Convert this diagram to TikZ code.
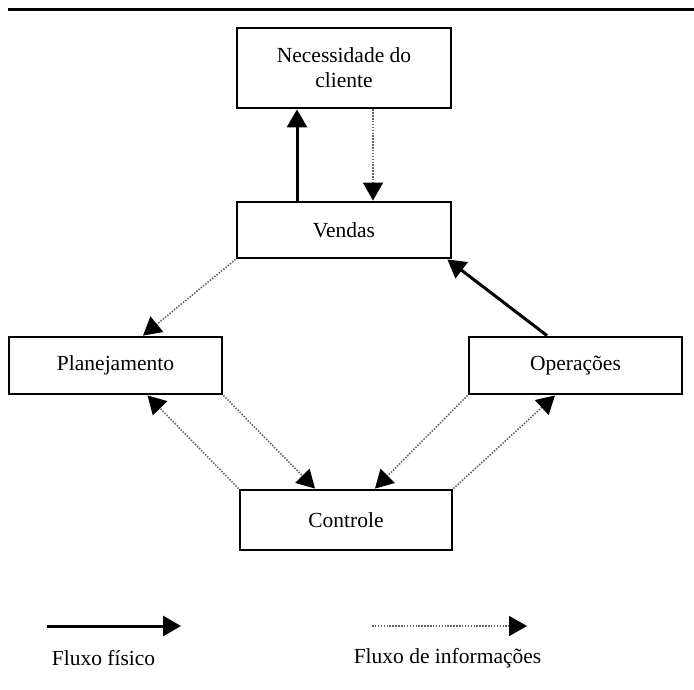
\documentclass[tikz,border=0pt]{standalone}
\usepackage{fontspec}
\setmainfont{Liberation Serif}
\usetikzlibrary{arrows.meta}
\begin{document}
\begin{tikzpicture}[x=1pt,y=-1pt,
  every node/.style={font=\fontsize{21.5}{25}\selectfont},
  box/.style={draw, line width=2.8pt, rectangle, inner sep=0pt, align=center},
  physflow/.style={line width=3pt, -{Triangle[length=18pt,width=20pt]}},
  infoflow/.style={line width=1.6pt, black!60, dash pattern=on 1.5pt off 1.4pt,
    -{Triangle[length=18pt,width=20pt,black]}},
  lbl/.style={inner sep=0pt}]
  \useasboundingbox (0,0) rectangle (694,690);

  % header rule
  \coordinate (ruleL) at (8,10);
  \coordinate (ruleR) at (694,10);
  \draw[line width=3pt] (ruleL) -- (ruleR);

  % process boxes
  \node[box, minimum width=214pt, minimum height=80pt] (nec) at (344,68)
    {Necessidade do\\cliente};
  \node[box, minimum width=214pt, minimum height=56pt] (ven) at (344,230) {Vendas};
  \node[box, minimum width=213pt, minimum height=57pt] (pla) at (115.5,365.5) {Planejamento};
  \node[box, minimum width=213pt, minimum height=57pt] (ope) at (575.5,365.5) {Operações};
  \node[box, minimum width=212pt, minimum height=60pt] (con) at (346,520) {Controle};

  % physical flows
  \draw[physflow] ([xshift=-47pt]ven.north) -- ([xshift=-47pt]nec.south);
  \draw[physflow] ([xshift=-28.5pt]ope.north) -- ([xshift=-5pt]ven.south east);

  % information flows
  \draw[infoflow] ([xshift=29pt]nec.south) -- ([xshift=29pt]ven.north);
  \draw[infoflow] (ven.south west) -- ([xshift=27.5pt]pla.north);
  \draw[infoflow] (con.north west) -- ([xshift=32pt]pla.south);
  \draw[infoflow] (pla.south east) -- ([xshift=-31pt]con.north);
  \draw[infoflow] (ope.south west) -- ([xshift=29pt]con.north);
  \draw[infoflow] (con.north east) -- ([xshift=-20.5pt]ope.south);

  % legend
  \coordinate (physA) at (47,626);
  \coordinate (physB) at (181,626);
  \coordinate (infoA) at (372,626);
  \coordinate (infoB) at (527,626);
  \draw[physflow] (physA) -- (physB);
  \draw[infoflow] (infoA) -- (infoB);
  \node[lbl] (physlbl) at (103.5,658) {Fluxo físico};
  \node[lbl] (infolbl) at (447.5,658) {Fluxo de informações};
\end{tikzpicture}
\end{document}
